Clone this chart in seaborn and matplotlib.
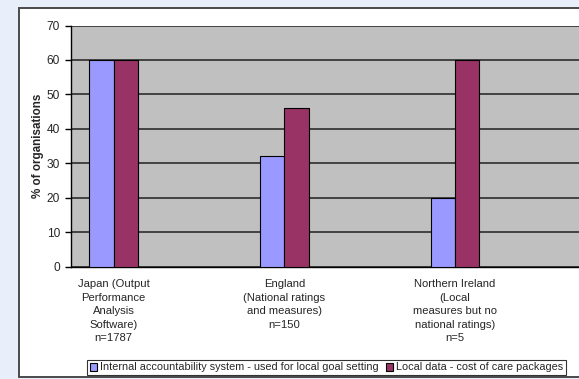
import matplotlib
matplotlib.use("Agg")
import matplotlib.pyplot as plt
from matplotlib.patches import Rectangle
import pandas as pd
import seaborn as sns

# Survey results: share of organisations using each data source
categories = [
    "Japan (Output\nPerformance\nAnalysis\nSoftware)\nn=1787",
    "England\n(National ratings\nand measures)\nn=150",
    "Northern Ireland\n(Local\nmeasures but no\nnational ratings)\nn=5",
]
series_names = [
    "Internal accountability system - used for local goal setting",
    "Local data - cost of care packages",
]
internal_values = [60, 32, 20]
local_values = [60, 46, 60]
y_ticks = [0, 10, 20, 30, 40, 50, 60, 70]

# Category slots: each country is followed by an empty slot
order = [categories[0], " ", categories[1], "  ", categories[2], "   "]

df = pd.DataFrame({
    "category": categories * 2,
    "series": [series_names[0]] * 3 + [series_names[1]] * 3,
    "value": internal_values + local_values,
})

sns.set_style("white")
plt.rcParams["font.family"] = ["Liberation Sans", "DejaVu Sans"]

W, H = 579, 379
fig = plt.figure(figsize=(W / 100, H / 100), dpi=100, facecolor="#E9EFFA")

# White chart frame behind the axes
fig.patches.append(Rectangle((19 / W, 2 / H), 700 / W, 369 / H,
                             transform=fig.transFigure, facecolor="white",
                             edgecolor="#4a4a4a", linewidth=1.4, zorder=-10))

ax = fig.add_axes([71 / W, 1 - 266.5 / H, 512 / W, 241 / H])
ax.set_zorder(1)
ax.set_facecolor("#C0C0C0")

sns.barplot(data=df, x="category", y="value", hue="series", order=order,
            hue_order=series_names, palette=["#9999FF", "#993366"],
            saturation=1, width=0.57, gap=0, edgecolor="black", linewidth=0.8,
            ax=ax, legend=True, zorder=3)

ax.set_xlim(-0.5, 5.5)
ax.set_ylim(0, 70)
ax.set_yticks(y_ticks)
ax.yaxis.grid(True, color="#202020", linewidth=1.1, zorder=1)
ax.set_axisbelow(True)

for s in ["top", "right"]:
    ax.spines[s].set_visible(False)
ax.spines["left"].set_color("black")
ax.spines["bottom"].set_color("black")
ax.spines["left"].set_linewidth(1.0)
ax.spines["bottom"].set_linewidth(1.0)

ax.set_xticks(range(len(order)))
ax.set_xticklabels(order, fontsize=8.1, linespacing=1.45)
ax.tick_params(axis="x", which="major", length=0, pad=9)
ax.set_xticks([i - 0.5 for i in range(len(order) + 1)], minor=True)
ax.tick_params(axis="x", which="minor", length=4, width=1.0, color="black", direction="out")
ax.tick_params(axis="y", length=4, width=1.0, color="black", direction="out",
               labelsize=8.6, pad=4, left=True)

ax.set_xlabel("")
ax.set_ylabel("% of organisations", fontsize=8.4, fontweight="bold", labelpad=2)

ax.get_legend().remove()
handles, labels = ax.get_legend_handles_labels()
leg = fig.legend(handles, labels, loc="center", ncol=2,
                 bbox_to_anchor=(326.5 / W, 1 - 367.5 / H),
                 fontsize=7.8, frameon=True, fancybox=False,
                 edgecolor="black", handlelength=0.7, handleheight=0.7,
                 handletextpad=0.3, columnspacing=0.6, borderpad=0.25,
                 borderaxespad=0)
leg.get_frame().set_linewidth(0.8)
leg.set_zorder(5)

fig.savefig("out.png", dpi=100, facecolor=fig.get_facecolor())
